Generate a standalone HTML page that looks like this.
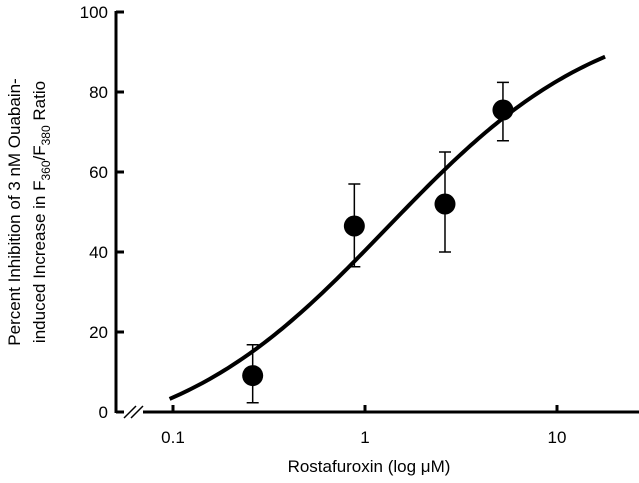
<!DOCTYPE html>
<html><head><meta charset="utf-8"><style>
body{margin:0;background:#fff;}
svg{display:block;font-family:"Liberation Sans",Arial,sans-serif;}
</style></head><body>
<svg id="chart" width="639" height="483" viewBox="0 0 639 483">
<g id="axes"></g>
<g id="marks"></g>
<text x="369" y="472" font-size="17" text-anchor="middle">Rostafuroxin (log μM)</text>
<g transform="translate(0,212) rotate(-90)">
<text x="0" y="20" font-size="17" text-anchor="middle">Percent Inhibition of 3 nM Ouabain-</text>
<text x="0" y="45" font-size="17" text-anchor="middle">induced Increase in F<tspan font-size="12" dy="5">360</tspan><tspan dy="-5">/F</tspan><tspan font-size="12" dy="5">380</tspan><tspan dy="-5"> Ratio</tspan></text>
</g>
</svg>
<script>
const xTicks=[0.1,1,10];
const xTickLabels=["0.1","1","10"];
const yTicks=[0,20,40,60,80,100];
const yTickLabels=["0","20","40","60","80","100"];
const doses=[0.26,0.88,2.61,5.23];
const inhibition=[9.1,46.5,52,75.5];
const errLow=[2.3,36.3,40,67.8];
const errHigh=[16.8,57,65,82.4];
// fitted 4-parameter logistic: bottom, top, EC50, Hill slope
const fitParams=[-10,102,1.3,0.77];
const curveRange=[0.096,17.8];

const NS="http://www.w3.org/2000/svg";
const xs=v=>173+192*(Math.log10(v)+1);
const ys=v=>412-4*v;
function mk(tag,attrs,parent){const e=document.createElementNS(NS,tag);for(const k in attrs)e.setAttribute(k,attrs[k]);parent.appendChild(e);return e;}
const axes=document.getElementById('axes'),marks=document.getElementById('marks');
let e;
e=mk('line',{x1:116,y1:11,x2:116,y2:413,stroke:'#000','stroke-width':3},axes);


e=mk('path',{d:'M116 412 H124 M143 412 H639',stroke:'#000','stroke-width':3,fill:'none'},axes);


e=mk('path',{d:'M124 418 L136 406 M131 418 L143 406',stroke:'#000','stroke-width':1.5,fill:'none'},axes);


yTicks.forEach((t,i)=>{
 e=mk('line',{x1:116,x2:124,y1:ys(t),y2:ys(t),stroke:'#000','stroke-width':3},axes);
 
 
 e=mk('text',{x:108,y:ys(t)+6,'font-size':17,'text-anchor':'end'},axes);
 e.textContent=yTickLabels[i];
 
 
});
xTicks.forEach((t,i)=>{
 e=mk('line',{x1:xs(t),x2:xs(t),y1:405,y2:412,stroke:'#000','stroke-width':3},axes);
 
 
 e=mk('text',{x:xs(t),y:443,'font-size':17,'text-anchor':'middle'},axes);
 e.textContent=xTickLabels[i];
 
 
});
const [B,T,C,N]=fitParams;
const fit=x=>B+(T-B)/(1+Math.pow(C/x,N));
const l0=Math.log10(curveRange[0]),l1=Math.log10(curveRange[1]);
let d='';
for(let k=0;k<=120;k++){
 const x=Math.pow(10,l0+(l1-l0)*k/120);
 d+=(k?' L':'M')+xs(x).toFixed(2)+' '+ys(fit(x)).toFixed(2);
}
e=mk('path',{d:d,stroke:'#000','stroke-width':4,fill:'none','stroke-linejoin':'round'},marks);


doses.forEach((x,i)=>{
 const cx=xs(x);
 e=mk('path',{d:`M${cx} ${ys(errLow[i])} V${ys(errHigh[i])} M${cx-6} ${ys(errLow[i])} H${cx+6} M${cx-6} ${ys(errHigh[i])} H${cx+6}`,stroke:'#000','stroke-width':1.5,fill:'none'},marks);
 
 
 e=mk('circle',{cx:cx,cy:ys(inhibition[i]),r:10.5,fill:'#000'},marks);
 
 
});
</script>
</body></html>
